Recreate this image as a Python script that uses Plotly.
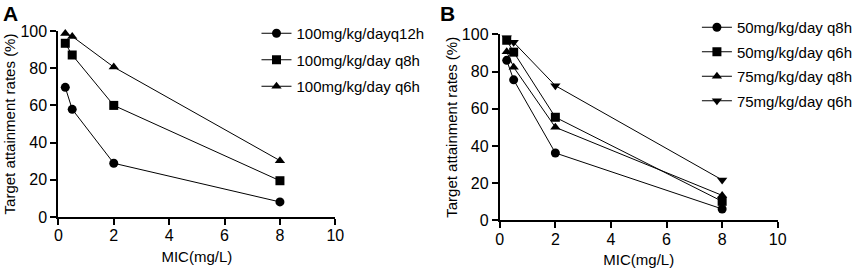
import plotly.graph_objects as go

W, H = 858, 274

mic = [0.25, 0.5, 2, 8]

# Panel A
a_names = ["100mg/kg/dayq12h", "100mg/kg/day q8h", "100mg/kg/day q6h"]
a_q12h = [69.7, 57.9, 28.9, 8.1]
a_q8h = [93.4, 87.1, 60.0, 19.5]
a_q6h = [98.6, 97.1, 80.6, 30.3]

# Panel B
b_names = ["50mg/kg/day q8h", "50mg/kg/day q6h", "75mg/kg/day q8h", "75mg/kg/day q6h"]
b_50q8h = [86.0, 75.5, 36.2, 6.1]
b_50q6h = [96.8, 90.4, 55.4, 10.2]
b_75q8h = [90.6, 82.3, 50.0, 13.4]
b_75q6h = [98.2, 95.7, 72.4, 21.7]

x_ticks = [0, 2, 4, 6, 8, 10]
y_ticks = [0, 20, 40, 60, 80, 100]

FONT = "Arial, Liberation Sans, sans-serif"

fig = go.Figure()

a_series = [a_q12h, a_q8h, a_q6h]
a_symbols = ["circle", "square", "triangle-up"]
for i, (name, vals, sym) in enumerate(zip(a_names, a_series, a_symbols)):
    fig.add_trace(go.Scatter(
        x=mic, y=vals, name=name, mode="lines+markers",
        line=dict(color="black", width=1),
        marker=dict(symbol=sym, size=9, color="black"),
        xaxis="x", yaxis="y", legend="legend", legendgroup="a%d" % i,
        cliponaxis=False,
    ))

b_series = [b_50q8h, b_50q6h, b_75q8h, b_75q6h]
b_symbols = ["circle", "square", "triangle-up", "triangle-down"]
for i, (name, vals, sym) in enumerate(zip(b_names, b_series, b_symbols)):
    fig.add_trace(go.Scatter(
        x=mic, y=vals, name=name, mode="lines+markers",
        line=dict(color="black", width=1),
        marker=dict(symbol=sym, size=9, color="black"),
        xaxis="x2", yaxis="y2", legend="legend2", legendgroup="b%d" % i,
        cliponaxis=False,
    ))

def xax(domain, anchor):
    return dict(
        domain=domain, anchor=anchor, range=[0, 10], tickvals=x_ticks,
        automargin=False,
        showgrid=False, zeroline=False, showline=True, linecolor="black",
        linewidth=2, ticks="outside", ticklen=6, tickwidth=2, tickcolor="black",
        ticklabelstandoff=-3,
        tickfont=dict(family=FONT, size=16, color="black"),
        title=dict(text="MIC(mg/L)", font=dict(family=FONT, size=15, color="black"), standoff=8),
    )

def yax(domain, anchor):
    return dict(
        domain=domain, anchor=anchor, range=[0, 100], tickvals=y_ticks,
        automargin=False,
        showgrid=False, zeroline=False, showline=True, linecolor="black",
        linewidth=2, ticks="outside", ticklen=6, tickwidth=2, tickcolor="black",
        tickfont=dict(family=FONT, size=16, color="black"),
        title=dict(text="Target attainment rates (%)", font=dict(family=FONT, size=15, color="black")),
    )

fig.update_layout(
    template="none",
    width=W, height=H,
    margin=dict(l=0, r=0, t=0, b=0),
    paper_bgcolor="white", plot_bgcolor="white",
    font=dict(family=FONT, size=15, color="black"),
    xaxis=xax([58.7 / W, 337.3 / W], "y"),
    yaxis=yax([1 - 217 / H, 1 - 31 / H], "x"),
    xaxis2=xax([502.7 / W, 782.3 / W], "y2"),
    yaxis2=yax([1 - 220.3 / H, 1 - 34.3 / H], "x2"),
    legend=dict(x=258 / W, y=1 - 17 / H, xanchor="left", yanchor="top",
                font=dict(family=FONT, size=15, color="black"),
                tracegroupgap=4, bgcolor="rgba(0,0,0,0)", itemwidth=30),
    legend2=dict(x=701 / W, y=1 - 11 / H, xanchor="left", yanchor="top",
                 font=dict(family=FONT, size=15, color="black"),
                 tracegroupgap=2, bgcolor="rgba(0,0,0,0)", itemwidth=30),
    annotations=[
        dict(text="<b>A</b>", x=1 / W, y=1, xref="paper", yref="paper",
             xanchor="left", yanchor="top", showarrow=False,
             font=dict(family=FONT, size=21, color="black")),
        dict(text="<b>B</b>", x=441 / W, y=1, xref="paper", yref="paper",
             xanchor="left", yanchor="top", showarrow=False,
             font=dict(family=FONT, size=21, color="black")),
    ],
)

fig.write_html("out.html", config={"displayModeBar": False},
               post_script="document.body.style.margin='0px';document.body.style.overflow='hidden';")
